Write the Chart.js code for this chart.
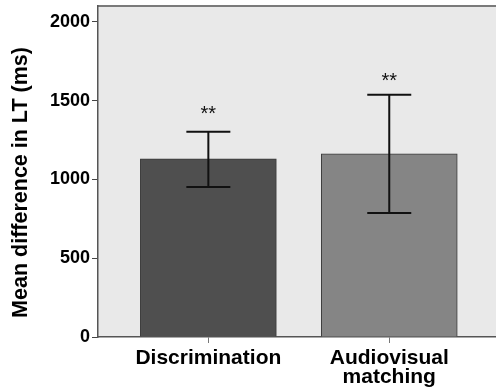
<!DOCTYPE html>
<html>
<head>
<meta charset="utf-8">
<script src="https://cdn.jsdelivr.net/npm/chart.js@4.4.1/dist/chart.umd.min.js"></script>
<style>
  html, body { margin: 0; padding: 0; background: #fff; }
  #wrap { width: 496px; height: 392px; }
</style>
</head>
<body>
<div id="wrap"><canvas id="chart"></canvas></div>
<script>
// ---------- DATA ----------
const categories = ["Discrimination", ["Audiovisual", "matching"]];
const positions = [0, 1];
const means = [1130, 1162];
const errLow = [952, 787];
const errHigh = [1302, 1537];
const sigMarks = ["**", "**"];
const sigLevel = [1435, 1645]; // where the stars sit (ms)
const yTicks = [0, 500, 1000, 1500, 2000];
const yTitle = "Mean difference in LT (ms)";

const FONT = "'Liberation Sans', Arial, sans-serif";

// ---------- PLUGINS ----------
const plotBg = {
  id: "plotBg",
  beforeDraw(chart) {
    const { ctx, chartArea: a } = chart;
    ctx.save();
    ctx.fillStyle = "#ffffff";
    ctx.fillRect(0, 0, chart.width, chart.height);
    ctx.fillStyle = "#e9e9e9";
    ctx.fillRect(a.left, a.top, a.right - a.left, a.bottom - a.top);
    ctx.strokeStyle = "#7a7a7a";
    ctx.lineWidth = 2;
    ctx.beginPath();
    ctx.moveTo(a.left, a.top);
    ctx.lineTo(a.right, a.top);
    ctx.stroke();
    ctx.restore();
  },
  afterDraw(chart) {
    // y axis title, sits a bit below the middle of the axis like the original
    const { ctx, chartArea: a } = chart;
    ctx.save();
    ctx.translate(21, (a.top + a.bottom) / 2 + 11);
    ctx.rotate(-Math.PI / 2);
    ctx.fillStyle = "#000";
    ctx.font = "bold 21.5px " + FONT;
    ctx.textAlign = "center";
    ctx.textBaseline = "middle";
    ctx.fillText(yTitle, 0, 0);
    ctx.restore();
  }
};

const errorBars = {
  id: "errorBars",
  afterDatasetsDraw(chart) {
    const { ctx, scales: { x, y } } = chart;
    ctx.save();
    ctx.strokeStyle = "#111";
    ctx.lineWidth = 2;
    positions.forEach((p, i) => {
      const px = x.getPixelForValue(p);
      const top = y.getPixelForValue(errHigh[i]);
      const bot = y.getPixelForValue(errLow[i]);
      ctx.beginPath();
      ctx.moveTo(px, top); ctx.lineTo(px, bot);
      ctx.moveTo(px - 22, top); ctx.lineTo(px + 22, top);
      ctx.moveTo(px - 22, bot); ctx.lineTo(px + 22, bot);
      ctx.stroke();
      // significance stars
      ctx.fillStyle = "#111";
      ctx.font = "20px " + FONT;
      ctx.textAlign = "center";
      ctx.textBaseline = "alphabetic";
      ctx.fillText(sigMarks[i], px, y.getPixelForValue(sigLevel[i]) + 9);
    });
    ctx.restore();
  }
};

// ---------- CHART ----------
new Chart(document.getElementById("chart"), {
  type: "bar",
  data: {
    datasets: [{
      data: positions.map((p, i) => ({ x: p, y: means[i] })),
      backgroundColor: ["#4f4f4f", "#858585"],
      borderColor: "#3a3a3a",
      borderWidth: 1,
      barThickness: 136
    }]
  },
  options: {
    responsive: true,
    maintainAspectRatio: false,
    animation: false,
    layout: { padding: { top: 6, right: 0, left: 0, bottom: 0 } },
    plugins: { legend: { display: false }, tooltip: { enabled: false } },
    scales: {
      x: {
        type: "linear",
        min: -0.61,
        max: 1.59,
        offset: false,
        bounds: "data",
        afterBuildTicks: (s) => { s.ticks = positions.map(v => ({ value: v })); },
        afterFit: (s) => { s.height = 55; s.paddingLeft = 0; s.paddingRight = 0; },
        grid: { offset: false, drawOnChartArea: false, drawTicks: true, tickLength: 6, color: "#777" },
        border: { display: true, color: "#555", width: 1.5 },
        ticks: {
          color: "#000",
          padding: 5,
          maxRotation: 0,
          autoSkip: false,
          font: { family: FONT, size: 21, weight: "bold", lineHeight: 0.93 },
          callback: (v, i) => categories[i]
        }
      },
      y: {
        min: 0,
        max: 2100,
        afterBuildTicks: (s) => { s.ticks = yTicks.map(v => ({ value: v })); },
        afterFit: (s) => { s.width = 98; s.paddingTop = 0; s.paddingBottom = 0; },
        grid: { drawOnChartArea: false, drawTicks: true, tickLength: 6, color: "#444" },
        border: { display: true, color: "#555", width: 1.5 },
        ticks: {
          color: "#000",
          padding: 2,
          font: { family: FONT, size: 18, weight: "bold" },
          callback: (v) => String(v)
        }
      }
    }
  },
  plugins: [plotBg, errorBars]
});
</script>
</body>
</html>
